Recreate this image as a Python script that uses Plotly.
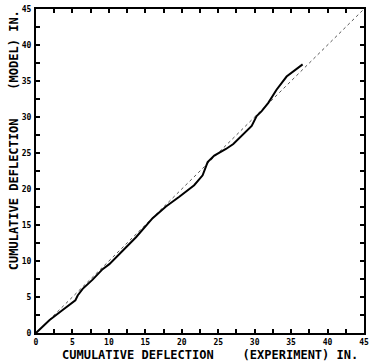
import plotly.graph_objects as go

# Cumulative deflection: experiment (x) vs model (y), inches
exp_defl = [0, 1.83, 3.43, 4.57, 5.40, 5.72, 6.40, 7.77, 9.14, 10.06, 11.43, 13.72,
            16.0, 17.83, 19.66, 21.7, 22.86, 23.55, 24.46, 25.47, 26.06, 27.07,
            28.44, 29.59, 30.27, 30.96, 31.87, 33.0, 34.38, 35.76, 36.58]
model_defl = [0, 1.78, 3.02, 3.93, 4.53, 5.21, 6.13, 7.41, 8.87, 9.56, 10.93, 13.3,
              15.95, 17.56, 18.93, 20.53, 21.9, 23.73, 24.65, 25.2, 25.56, 26.24,
              27.62, 28.76, 30.13, 30.82, 31.96, 33.79, 35.62, 36.76, 37.31]

# line of perfect agreement
ref_x = [0, 45]
ref_y = [0, 45]

tick_vals = [0, 5, 10, 15, 20, 25, 30, 35, 40, 45]
tick_text = ["0", "5", "10", "15", "20", "25", "30", "35", "40", "45"]

x_title = "CUMULATIVE DEFLECTION\u00a0\u00a0\u00a0\u00a0(EXPERIMENT) IN."
y_title = "CUMULATIVE DEFLECTION\u00a0\u00a0\u00a0\u00a0(MODEL) IN."

FONT = "DejaVu Sans Mono"

fig = go.Figure()
fig.add_trace(go.Scatter(x=ref_x, y=ref_y, mode="lines",
                         line=dict(color="#555555", width=1, dash="dot"),
                         showlegend=False, hoverinfo="skip"))
fig.add_trace(go.Scatter(x=exp_defl, y=model_defl, mode="lines",
                         line=dict(color="black", width=2),
                         showlegend=False))

axis_common = dict(
    range=[0, 45], tickvals=tick_vals, ticktext=tick_text,
    ticks="inside", ticklen=4, tickwidth=2, tickcolor="black",
    showline=True, linecolor="black", linewidth=2, mirror="allticks",
    showgrid=False, zeroline=False,
    tickfont=dict(family=FONT, size=8, color="black", weight="bold"),
    minor=dict(dtick=2.5, tick0=0, ticks="inside", ticklen=4, tickwidth=2,
               tickcolor="black", showgrid=False),
)

fig.update_layout(
    width=375, height=362,
    margin=dict(l=36, r=11, t=5, b=29),
    paper_bgcolor="white", plot_bgcolor="white",
    xaxis=dict(**axis_common, ticklabelstandoff=0),
    yaxis=dict(**axis_common, ticklabelstandoff=1),
    annotations=[
        dict(text=x_title, xref="paper", yref="paper", x=0.532, y=-0.069,
             showarrow=False, xanchor="center", yanchor="middle",
             font=dict(family=FONT, size=12, color="black", weight="bold")),
        dict(text=y_title, xref="paper", yref="paper", x=-0.067, y=0.595,
             showarrow=False, xanchor="center", yanchor="middle", textangle=-90,
             font=dict(family=FONT, size=12, color="black", weight="bold")),
    ],
)

fig.write_html("out.html")
